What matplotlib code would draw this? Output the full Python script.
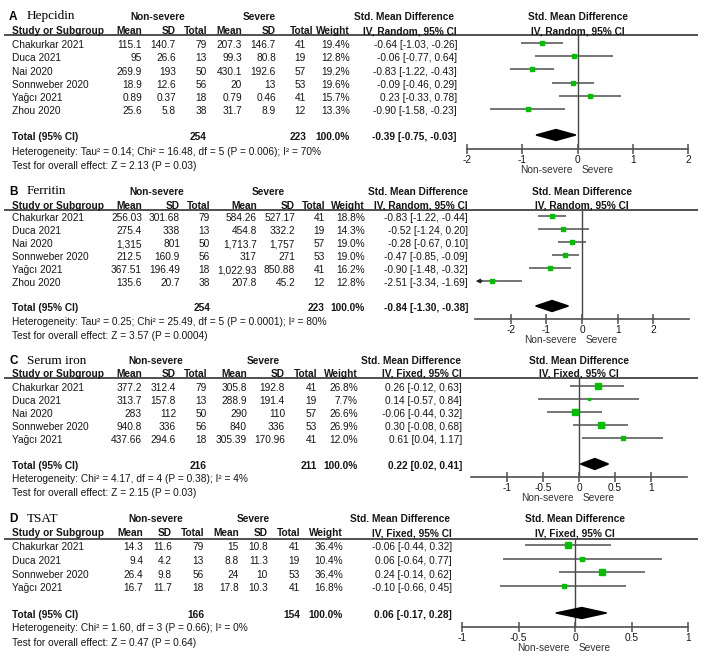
import matplotlib
matplotlib.use("Agg")
import matplotlib.pyplot as plt
from matplotlib.patches import Polygon
from matplotlib.ticker import FuncFormatter

plt.rcParams['axes.unicode_minus'] = False

# ---- A: Hepcidin (random effects) ----
hep_studies = ["Chakurkar 2021", "Duca 2021", "Nai 2020", "Sonnweber 2020", "Yağcı 2021", "Zhou 2020"]
hep_ns_mean = ["115.1", "95", "269.9", "18.9", "0.89", "25.6"]
hep_ns_sd = ["140.7", "26.6", "193", "12.6", "0.37", "5.8"]
hep_ns_n = [79, 13, 50, 56, 18, 38]
hep_sv_mean = ["207.3", "99.3", "430.1", "20", "0.79", "31.7"]
hep_sv_sd = ["146.7", "80.8", "192.6", "13", "0.46", "8.9"]
hep_sv_n = [41, 19, 57, 53, 41, 12]
hep_weight = [19.4, 12.8, 19.2, 19.6, 15.7, 13.3]
hep_smd = [-0.64, -0.06, -0.83, -0.09, 0.23, -0.90]
hep_lo = [-1.03, -0.77, -1.22, -0.46, -0.33, -1.58]
hep_hi = [-0.26, 0.64, -0.43, 0.29, 0.78, -0.23]
hep_pooled = [-0.39, -0.75, -0.03]
hep_het = "Heterogeneity: Tau² = 0.14; Chi² = 16.48, df = 5 (P = 0.006); I² = 70%"
hep_test = "Test for overall effect: Z = 2.13 (P = 0.03)"

# ---- B: Ferritin (random effects) ----
fer_studies = ["Chakurkar 2021", "Duca 2021", "Nai 2020", "Sonnweber 2020", "Yağcı 2021", "Zhou 2020"]
fer_ns_mean = ["256.03", "275.4", "1,315", "212.5", "367.51", "135.6"]
fer_ns_sd = ["301.68", "338", "801", "160.9", "196.49", "20.7"]
fer_ns_n = [79, 13, 50, 56, 18, 38]
fer_sv_mean = ["584.26", "454.8", "1,713.7", "317", "1,022.93", "207.8"]
fer_sv_sd = ["527.17", "332.2", "1,757", "271", "850.88", "45.2"]
fer_sv_n = [41, 19, 57, 53, 41, 12]
fer_weight = [18.8, 14.3, 19.0, 19.0, 16.2, 12.8]
fer_smd = [-0.83, -0.52, -0.28, -0.47, -0.90, -2.51]
fer_lo = [-1.22, -1.24, -0.67, -0.85, -1.48, -3.34]
fer_hi = [-0.44, 0.20, 0.10, -0.09, -0.32, -1.69]
fer_pooled = [-0.84, -1.30, -0.38]
fer_het = "Heterogeneity: Tau² = 0.25; Chi² = 25.49, df = 5 (P = 0.0001); I² = 80%"
fer_test = "Test for overall effect: Z = 3.57 (P = 0.0004)"

# ---- C: Serum iron (fixed effect) ----
iron_studies = ["Chakurkar 2021", "Duca 2021", "Nai 2020", "Sonnweber 2020", "Yağcı 2021"]
iron_ns_mean = ["377.2", "313.7", "283", "940.8", "437.66"]
iron_ns_sd = ["312.4", "157.8", "112", "336", "294.6"]
iron_ns_n = [79, 13, 50, 56, 18]
iron_sv_mean = ["305.8", "288.9", "290", "840", "305.39"]
iron_sv_sd = ["192.8", "191.4", "110", "336", "170.96"]
iron_sv_n = [41, 19, 57, 53, 41]
iron_weight = [26.8, 7.7, 26.6, 26.9, 12.0]
iron_smd = [0.26, 0.14, -0.06, 0.30, 0.61]
iron_lo = [-0.12, -0.57, -0.44, -0.08, 0.04]
iron_hi = [0.63, 0.84, 0.32, 0.68, 1.17]
iron_pooled = [0.22, 0.02, 0.41]
iron_het = "Heterogeneity: Chi² = 4.17, df = 4 (P = 0.38); I² = 4%"
iron_test = "Test for overall effect: Z = 2.15 (P = 0.03)"

# ---- D: TSAT (fixed effect) ----
tsat_studies = ["Chakurkar 2021", "Duca 2021", "Sonnweber 2020", "Yağcı 2021"]
tsat_ns_mean = ["14.3", "9.4", "26.4", "16.7"]
tsat_ns_sd = ["11.6", "4.2", "9.8", "11.7"]
tsat_ns_n = [79, 13, 56, 18]
tsat_sv_mean = ["15", "8.8", "24", "17.8"]
tsat_sv_sd = ["10.8", "11.3", "10", "10.3"]
tsat_sv_n = [41, 19, 53, 41]
tsat_weight = [36.4, 10.4, 36.4, 16.8]
tsat_smd = [-0.06, 0.06, 0.24, -0.10]
tsat_lo = [-0.44, -0.64, -0.14, -0.66]
tsat_hi = [0.32, 0.77, 0.62, 0.45]
tsat_pooled = [0.06, -0.17, 0.28]
tsat_het = "Heterogeneity: Chi² = 1.60, df = 3 (P = 0.66); I² = 0%"
tsat_test = "Test for overall effect: Z = 0.47 (P = 0.64)"

panels = [
    dict(letter="A", name="Hepcidin", model="IV, Random, 95% CI",
         studies=hep_studies, cols=[hep_ns_mean, hep_ns_sd, hep_ns_n, hep_sv_mean, hep_sv_sd, hep_sv_n],
         weight=hep_weight, smd=hep_smd, lo=hep_lo, hi=hep_hi, pooled=hep_pooled,
         het=hep_het, test=hep_test,
         xlim=(-2, 2), ticks=[-2, -1, 0, 1, 2],
         # layout in pixels
         title_y=17, head_y=31, line_y=35, row0=45, step=13.3, total_y=137, het_y=152, test_y=166,
         axis_y=149, px=(467, 688), colx=[142, 176, 207, 242, 276, 306, 350],
         headx=[142, 176, 207, 242, 276, 313, 350], ns_c=158, sv_c=259,
         ci_r=457, ci_c=404),
    dict(letter="B", name="Ferritin", model="IV, Random, 95% CI",
         studies=fer_studies, cols=[fer_ns_mean, fer_ns_sd, fer_ns_n, fer_sv_mean, fer_sv_sd, fer_sv_n],
         weight=fer_weight, smd=fer_smd, lo=fer_lo, hi=fer_hi, pooled=fer_pooled,
         het=fer_het, test=fer_test,
         xlim=(-3, 3), ticks=[-2, -1, 0, 1, 2],
         title_y=192, head_y=206, line_y=210, row0=218, step=13.07, total_y=308, het_y=322, test_y=336,
         axis_y=319, px=(475, 689), colx=[142, 180, 210, 257, 295, 325, 365],
         headx=[142, 180, 210, 257, 295, 325, 365], ns_c=157, sv_c=268,
         ci_r=468, ci_c=418),
    dict(letter="C", name="Serum iron", model="IV, Fixed, 95% CI",
         studies=iron_studies, cols=[iron_ns_mean, iron_ns_sd, iron_ns_n, iron_sv_mean, iron_sv_sd, iron_sv_n],
         weight=iron_weight, smd=iron_smd, lo=iron_lo, hi=iron_hi, pooled=iron_pooled,
         het=iron_het, test=iron_test,
         xlim=(-1.5, 1.5), ticks=[-1, -0.5, 0, 0.5, 1],
         title_y=361, head_y=374, line_y=378, row0=388, step=13.0, total_y=466, het_y=479, test_y=493,
         axis_y=477, px=(471, 687), colx=[142, 176, 207, 247, 285, 317, 358],
         headx=[142, 176, 207, 247, 285, 317, 358], ns_c=156, sv_c=263,
         ci_r=462, ci_c=411),
    dict(letter="D", name="TSAT", model="IV, Fixed, 95% CI",
         studies=tsat_studies, cols=[tsat_ns_mean, tsat_ns_sd, tsat_ns_n, tsat_sv_mean, tsat_sv_sd, tsat_sv_n],
         weight=tsat_weight, smd=tsat_smd, lo=tsat_lo, hi=tsat_hi, pooled=tsat_pooled,
         het=tsat_het, test=tsat_test,
         xlim=(-1, 1), ticks=[-1, -0.5, 0, 0.5, 1],
         title_y=519, head_y=533, line_y=539, row0=547.3, step=13.7, total_y=615, het_y=628, test_y=643,
         axis_y=627, px=(462, 688), colx=[143, 172, 204, 239, 268, 300, 343],
         headx=[143, 172, 204, 239, 268, 300, 343], ns_c=156, sv_c=253,
         ci_r=452, ci_c=400),
]

W, H = 708, 668
FS = 7.3
SANS = "Liberation Sans"
TXT = "#161616"
LINE = "#505050"
GREEN = "#00c000"

fig = plt.figure(figsize=(W / 100, H / 100), dpi=100)
fig.patch.set_facecolor("white")
base = fig.add_axes([0, 0, 1, 1])
base.set_xlim(0, W)
base.set_ylim(H, 0)
base.axis("off")


def t(x, y, s, ha="left", bold=False, size=FS, family=SANS):
    base.text(x, y, s, ha=ha, va="center", fontsize=size, family=family,
              fontweight="bold" if bold else "normal", color=TXT)


col_heads = ["Mean", "SD", "Total", "Mean", "SD", "Total", "Weight"]

for p in panels:
    # titles and header
    base.text(9, p["title_y"], p["letter"], ha="left", va="center", fontsize=8.5,
              family=SANS, fontweight="bold", color="black")
    base.text(27, p["title_y"] - 0.5, p["name"], ha="left", va="center", fontsize=9.5,
              family="Liberation Serif", color="black")
    t(p["ns_c"], p["title_y"], "Non-severe", ha="center", bold=True)
    t(p["sv_c"], p["title_y"], "Severe", ha="center", bold=True)
    t(p["ci_c"], p["title_y"], "Std. Mean Difference", ha="center", bold=True)
    x0 = (p["px"][0] + p["px"][1]) / 2
    t(x0, p["title_y"], "Std. Mean Difference", ha="center", bold=True)
    t(12, p["head_y"], "Study or Subgroup", bold=True)
    for cx, h in zip(p["headx"], col_heads):
        t(cx, p["head_y"], h, ha="right", bold=True)
    t(p["ci_r"], p["head_y"], p["model"], ha="right", bold=True)
    t(x0, p["head_y"], p["model"], ha="center", bold=True)
    base.plot([4, 698], [p["line_y"], p["line_y"]], color=LINE, lw=1.4, solid_capstyle="butt")

    # study rows
    for i, st in enumerate(p["studies"]):
        y = p["row0"] + i * p["step"]
        t(12, y, st)
        for cx, col in zip(p["colx"][:6], p["cols"]):
            t(cx, y, str(col[i]), ha="right")
        t(p["colx"][6], y, f"{p['weight'][i]:.1f}%", ha="right")
        t(p["ci_r"], y, f"{p['smd'][i]:.2f} [{p['lo'][i]:.2f}, {p['hi'][i]:.2f}]", ha="right")

    # totals
    ty = p["total_y"]
    t(12, ty, "Total (95% CI)", bold=True)
    t(p["colx"][2], ty, str(sum(p["cols"][2])), ha="right", bold=True)
    t(p["colx"][5], ty, str(sum(p["cols"][5])), ha="right", bold=True)
    t(p["colx"][6], ty, "100.0%", ha="right", bold=True)
    est, plo, phi = p["pooled"]
    t(p["ci_r"], ty, f"{est:.2f} [{plo:.2f}, {phi:.2f}]", ha="right", bold=True)
    t(12, p["het_y"], p["het"])
    t(12, p["test_y"], p["test"])

    # forest plot axes: x in effect units, y in pixel rows
    ax = fig.add_axes([p["px"][0] / W, 1 - p["axis_y"] / H,
                       (p["px"][1] - p["px"][0]) / W, (p["axis_y"] - p["line_y"]) / H])
    ax.patch.set_alpha(0)
    ax.set_xlim(*p["xlim"])
    ax.set_ylim(p["axis_y"], p["line_y"])
    for side in ["top", "left", "right"]:
        ax.spines[side].set_visible(False)
    ax.spines["bottom"].set_color(LINE)
    ax.spines["bottom"].set_linewidth(1.2)
    ax.set_yticks([])
    ax.set_xticks(p["ticks"])
    ax.xaxis.set_major_formatter(FuncFormatter(lambda v, pos: f"{v:g}"))
    ax.tick_params(axis="x", direction="inout", length=7, width=1.1, color=LINE,
                   labelsize=FS, labelcolor=TXT, pad=1)
    for lab in ax.get_xticklabels():
        lab.set_family(SANS)
    ax.axvline(0, color="#444444", lw=1.0, zorder=1)

    xmin = p["xlim"][0]
    for i in range(len(p["studies"])):
        y = p["row0"] + i * p["step"] - 2.3
        lo = p["lo"][i]
        if lo < xmin:
            ax.hlines(y, xmin + 0.12, p["hi"][i], color=LINE, lw=1.1, zorder=2)
            ax.annotate("", xy=(xmin + 0.02, y), xytext=(xmin + 0.2, y),
                        arrowprops=dict(arrowstyle="-|>", color="#222222", lw=1.0,
                                        mutation_scale=6, shrinkA=0, shrinkB=0))
        else:
            ax.hlines(y, lo, p["hi"][i], color=LINE, lw=1.1, zorder=2)
        side = 1.08 * p["weight"][i] ** 0.5 * 0.72
        ax.plot(p["smd"][i], y, marker="s", ms=side, color=GREEN, mec=GREEN, zorder=3)

    dy = ty - 2
    ax.add_patch(Polygon([(plo, dy), (est, dy - 5.5), (phi, dy), (est, dy + 5.5)],
                         closed=True, color="black", zorder=3))

    base.text(x0 - 5, p["axis_y"] + 21, "Non-severe", ha="right", va="center",
              fontsize=FS, family=SANS, color="#333333")
    base.text(x0 + 4, p["axis_y"] + 21, "Severe", ha="left", va="center",
              fontsize=FS, family=SANS, color="#333333")

fig.savefig("out.png", dpi=100, facecolor="white")
